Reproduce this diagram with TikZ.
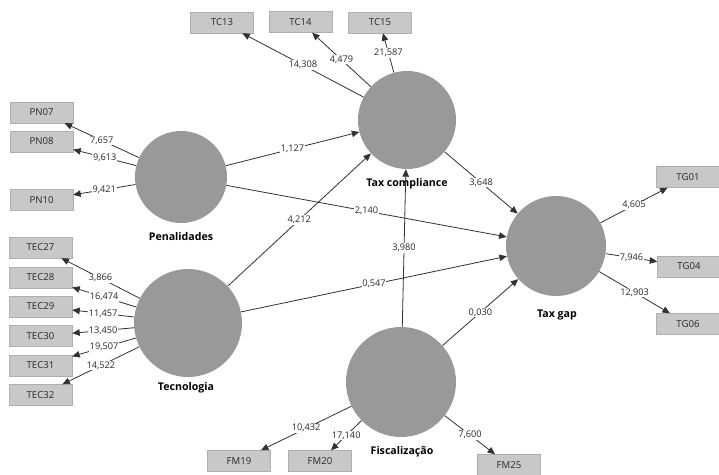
\documentclass[tikz,border=0pt]{standalone}
\usepackage{fontspec}
\setmainfont{Open Sans}
\usetikzlibrary{arrows.meta}
\definecolor{circ}{RGB}{153,153,153}
\definecolor{boxf}{RGB}{200,200,200}
\definecolor{boxd}{RGB}{175,175,175}
\definecolor{edge}{RGB}{50,50,50}
\definecolor{txt}{RGB}{40,40,40}
\begin{document}
\begin{tikzpicture}[x=1pt,y=-1pt,
  construct/.style={circle,fill=circ,inner sep=0pt},
  ind/.style={rectangle,fill=boxf,draw=boxd,line width=0.4pt,minimum width=63pt,minimum height=21pt,inner sep=0pt,font=\fontsize{9.6}{11}\selectfont,text=txt},
  cname/.style={font=\fontsize{10.6}{12}\selectfont\bfseries,text=black},
  conn/.style={draw=edge,line width=0.8pt,-{Triangle[length=7.5pt,width=6.5pt]}},
  val/.style={fill=white,inner sep=0.8pt,font=\fontsize{9.2}{10}\selectfont,text=txt,midway}]
\useasboundingbox (0,0) rectangle (719,474);
\fill[white] (0,0) rectangle (719,474);
% constructs
\node[construct,minimum size=98pt] (TC) at (407,120) {};
\node[construct,minimum size=92pt] (PE) at (181,177) {};
\node[construct,minimum size=108pt] (TE) at (188,323) {};
\node[construct,minimum size=100pt] (TG) at (556,246) {};
\node[construct,minimum size=110pt] (FI) at (401,382) {};
\node[cname] (lTC) at (407,184) {Tax compliance};
\node[cname] (lPE) at (181,237) {Penalidades};
\node[cname] (lTE) at (186,388) {Tecnologia};
\node[cname] (lTG) at (557,315) {Tax gap};
\node[cname] (lFI) at (402,452) {Fiscalização};
% indicators
\node[ind] (TC13) at (222,22.5) {TC13};
\node[ind] (TC14) at (300.5,22) {TC14};
\node[ind] (TC15) at (380,22.5) {TC15};
\node[ind] (PN07) at (41.5,112.5) {PN07};
\node[ind] (PN08) at (41.5,141.5) {PN08};
\node[ind] (PN10) at (41.5,200) {PN10};
\node[ind] (TEC27) at (40.5,247.5) {TEC27};
\node[ind] (TEC28) at (40.5,277.5) {TEC28};
\node[ind] (TEC29) at (40.5,306.5) {TEC29};
\node[ind] (TEC30) at (40.5,336) {TEC30};
\node[ind] (TEC31) at (40.5,365.5) {TEC31};
\node[ind] (TEC32) at (40.5,395) {TEC32};
\node[ind] (TG01) at (688,177) {TG01};
\node[ind] (TG04) at (689,266.5) {TG04};
\node[ind] (TG06) at (688,324) {TG06};
\node[ind] (FM19) at (239,461) {FM19};
\node[ind] (FM20) at (320,461) {FM20};
\node[ind] (FM25) at (509,465) {FM25};
% outer loadings
\draw[conn] (TC) -- node[val] {14,308} (TC13);
\draw[conn] (TC) -- node[val] {4,479} (TC14);
\draw[conn] (TC) -- node[val] {21,587} (TC15);
\draw[conn] (PE) -- node[val] {7,657} (PN07);
\draw[conn] (PE) -- node[val] {9,613} (PN08);
\draw[conn] (PE) -- node[val] {9,421} (PN10);
\draw[conn] (TE) -- node[val] {3,866} (TEC27);
\draw[conn] (TE) -- node[val] {16,474} (TEC28);
\draw[conn] (TE) -- node[val] {11,457} (TEC29);
\draw[conn] (TE) -- node[val] {13,450} (TEC30);
\draw[conn] (TE) -- node[val] {19,507} (TEC31);
\draw[conn] (TE) -- node[val] {14,522} (TEC32);
\draw[conn] (TG) -- node[val] {4,605} (TG01);
\draw[conn] (TG) -- node[val] {7,946} (TG04);
\draw[conn] (TG) -- node[val] {12,903} (TG06);
\draw[conn] (FI) -- node[val] {10,432} (FM19);
\draw[conn] (FI) -- node[val] {17,140} (FM20);
\draw[conn] (FI) -- node[val] {7,600} (FM25);
% inner paths
\draw[conn] (PE) -- node[val] {1,127} (TC);
\draw[conn] (PE) -- node[val] {2,140} (TG);
\draw[conn] (TE) -- node[val] {4,212} (TC);
\draw[conn] (TE) -- node[val] {0,547} (TG);
\draw[conn] (FI) -- node[val] {3,980} (TC);
\draw[conn] (FI) -- node[val] {0,030} (TG);
\draw[conn] (TC) -- node[val] {3,648} (TG);
\end{tikzpicture}
\end{document}
